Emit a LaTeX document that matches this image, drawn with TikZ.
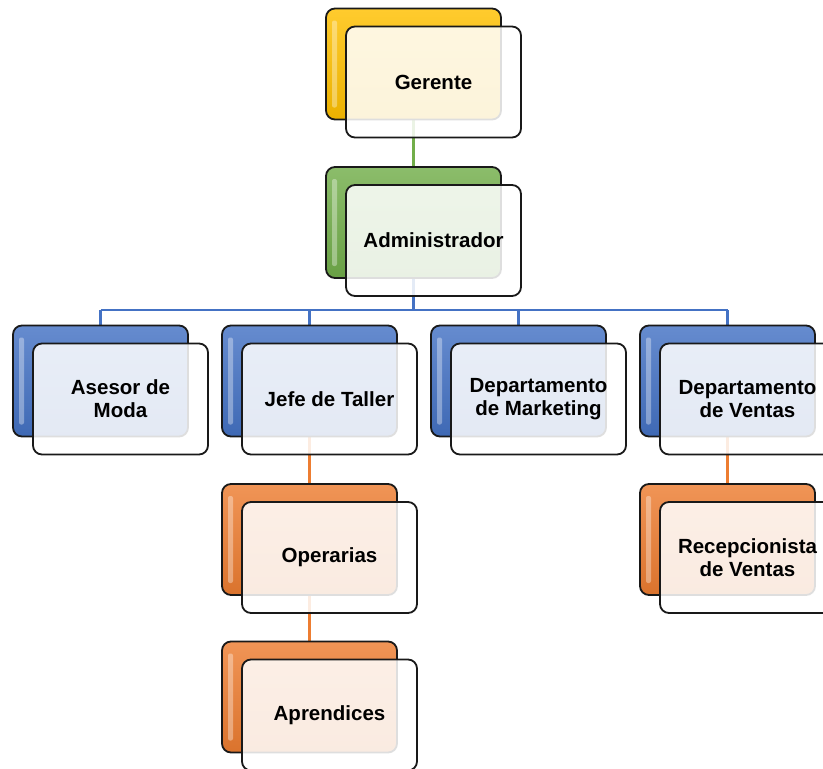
\documentclass[tikz,border=0pt]{standalone}
\usepackage{fontspec}
\setmainfont{Liberation Sans}
\usetikzlibrary{positioning,backgrounds}
\definecolor{gerColor}{HTML}{FFC000}
\definecolor{admColor}{HTML}{72AE4A}
\definecolor{depColor}{HTML}{4472C4}
\definecolor{opeColor}{HTML}{ED7D31}
\tikzset{
	backbox/.style={draw=black!90, line width=1.8pt, rounded corners=9pt,
		minimum width=175pt, minimum height=111pt, inner sep=0pt,
		top color=#1!82!white, middle color=#1, bottom color=#1!92!black,
		path picture={\fill[white, opacity=0.35, rounded corners=2pt]
			([xshift=6pt, yshift=-12pt]path picture bounding box.north west) rectangle
			([xshift=11pt, yshift=12pt]path picture bounding box.south west);}},
	frontbox/.style={draw=black!90, line width=1.8pt, rounded corners=9pt,
		minimum width=175pt, minimum height=111pt, inner sep=0pt,
		fill=white, fill opacity=0.86, text opacity=1, draw opacity=1,
		align=center, font=\fontsize{20.5}{23}\selectfont\bfseries},
	link/.style={draw=#1, line width=2.6pt}
}
\begin{document}
\begin{tikzpicture}[x=1pt, y=-1pt]
	% picture frame
	\clip (0,0) rectangle (823,769);
	% Gerente and Administrador
	\node[backbox=gerColor] (gerB) at (413.5,64) {};
	\node[frontbox] (ger) at ([xshift=20pt, yshift=-18pt]gerB.center) {Gerente};
	\node[backbox=admColor] (admB) at (413.5,222.5) {};
	\node[frontbox] (adm) at ([xshift=20pt, yshift=-18pt]admB.center) {Administrador};
	% second row
	\node[backbox=depColor] (aseB) at (100.5,381) {};
	\node[frontbox] (ase) at ([xshift=20pt, yshift=-18pt]aseB.center) {Asesor de\\Moda};
	\node[backbox=depColor] (jefB) at (309.5,381) {};
	\node[frontbox] (jef) at ([xshift=20pt, yshift=-18pt]jefB.center) {Jefe de Taller};
	\node[backbox=depColor] (marB) at (518.5,381) {};
	\node[frontbox] (mar) at ([xshift=20pt, yshift=-18pt]marB.center) {Departamento\\de Marketing};
	\node[backbox=depColor] (venB) at (727.5,381) {};
	\node[frontbox] (ven) at ([xshift=20pt, yshift=-18pt]venB.center) {Departamento\\de Ventas};
	% taller and ventas staff
	\node[backbox=opeColor] (opeB) at (309.5,539.5) {};
	\node[frontbox] (ope) at ([xshift=20pt, yshift=-18pt]opeB.center) {Operarias};
	\node[backbox=opeColor] (aprB) at (309.5,697) {};
	\node[frontbox] (apr) at ([xshift=20pt, yshift=-18pt]aprB.center) {Aprendices};
	\node[backbox=opeColor] (recB) at (727.5,539.5) {};
	\node[frontbox] (rec) at ([xshift=20pt, yshift=-18pt]recB.center) {Recepcionista\\de Ventas};
	% connectors behind the boxes
	\begin{pgfonlayer}{background}
		\coordinate (bus) at (0,310);
		\draw[link=admColor] (gerB) -- (admB);
		\draw[link=depColor] (admB) -- (admB |- bus);
		\draw[link=depColor] (aseB |- bus) -- (venB |- bus);
		\foreach \n in {aseB,jefB,marB,venB}
			\draw[link=depColor] (\n |- bus) -- (\n);
		\draw[link=opeColor] (jefB) -- (opeB) -- (aprB);
		\draw[link=opeColor] (venB) -- (recB);
	\end{pgfonlayer}
\end{tikzpicture}
\end{document}
